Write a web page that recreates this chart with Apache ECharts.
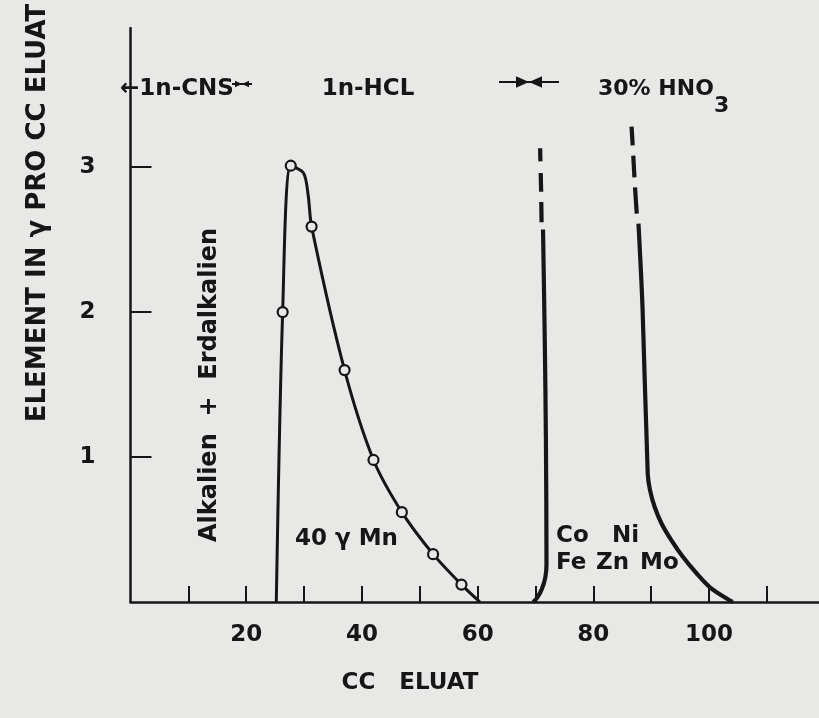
<!DOCTYPE html>
<html><head><meta charset="utf-8">
<script src="https://cdn.jsdelivr.net/npm/echarts@6/dist/echarts.min.js"></script>
<style>html,body{margin:0;padding:0;background:#e8e8e6}#c{width:819px;height:718px}</style>
</head><body><div id="c"></div>
<script>
// ---- data ----
const xTickLabels = [20, 40, 60, 80, 100];
const yTickLabels = [1, 2, 3];
// 40 γ Mn elution curve (measured points marked with circles)
const mnX = [25.2, 26.3, 27.7, 29.9, 30.7, 31.3, 37.0, 42.0, 46.9, 52.3, 57.2, 60.4];
const mnY = [0, 2.0, 3.01, 2.96, 2.81, 2.59, 1.60, 0.98, 0.62, 0.33, 0.12, 0];
const mnMeasured = [false, true, true, false, false, true, true, true, true, true, true, false];
// Co / Fe peak: solid part
const coX = [69.6, 70.3, 71.1, 71.7, 71.9, 71.8, 71.6, 71.3];
const coY = [0, 0.03, 0.09, 0.17, 0.26, 1.12, 1.81, 2.57];
// Co / Fe peak: dashed continuation, one [x0, y0, x1, y1] per dash
const coDashes = [[71.05, 2.62, 71.0, 2.76], [70.98, 2.83, 70.9, 2.96], [70.85, 3.04, 70.8, 3.13]];
// Ni / Zn / Mo peak: solid part
const moX = [104.1, 103.6, 100.2, 97.9, 95.5, 93.5, 91.8, 90.6, 89.8, 89.4, 88.5, 87.8];
const moY = [0, 0.01, 0.10, 0.195, 0.31, 0.425, 0.54, 0.655, 0.77, 0.885, 2.03, 2.61];
// Ni / Zn / Mo peak: dashed continuation
const moDashes = [[87.5, 2.68, 87.2, 2.86], [87.1, 2.93, 86.9, 3.08], [86.8, 3.15, 86.6, 3.28]];

const ink = '#161616';
const paper = '#e8e8e6';
const FONT = '"DejaVu Sans", sans-serif';
const pairs = (xs, ys) => xs.map((x, i) => [x, ys[i]]);
const dashSeries = segs => segs.map(s => ({
  type: 'line', symbol: 'none', z: 4,
  data: [[s[0], s[1]], [s[2], s[3]]],
  lineStyle: {color: ink, width: 4.2, cap: 'butt'}
}));

const chart = echarts.init(document.getElementById('c'), null, {renderer: 'canvas'});

function txt(text, x, y, size, opts) {
  opts = opts || {};
  return {
    type: 'text', x: x, y: y, rotation: opts.rotation || 0, silent: true, z: 100,
    style: {
      text: text, fill: ink, font: 'bold ' + size + 'px ' + FONT,
      textAlign: opts.align || 'left', textVerticalAlign: 'middle', verticalAlign: 'middle'
    }
  };
}
function marker(cx, cy, half, head) {
  // line with two arrowheads meeting at the centre
  return [
    {type: 'line', silent: true, z: 100, shape: {x1: cx - half, y1: cy, x2: cx + half, y2: cy}, style: {stroke: ink, lineWidth: 2}},
    {type: 'polygon', silent: true, z: 100, shape: {points: [[cx, cy], [cx - head, cy - head * 0.45], [cx - head, cy + head * 0.45]]}, style: {fill: ink}},
    {type: 'polygon', silent: true, z: 100, shape: {points: [[cx, cy], [cx + head, cy - head * 0.45], [cx + head, cy + head * 0.45]]}, style: {fill: ink}}
  ];
}

const graphics = [
  txt('ELEMENT IN γ PRO CC ELUAT', 38, 213, 26, {align: 'center', rotation: Math.PI / 2}),
  txt('←1n-CNS', 120, 89, 23),
  ...marker(242, 84, 10, 7),
  txt('1n-HCL', 368, 89, 23, {align: 'center'}),
  ...marker(529, 82, 30, 13),
  txt('30% HNO', 598, 89, 22),
  txt('3', 714, 106, 22),
  txt('Alkalien  +  Erdalkalien', 210, 385, 24, {align: 'center', rotation: Math.PI / 2}),
  txt('40 γ Mn', 295, 539, 23),
  txt('Co', 556, 536, 23),
  txt('Ni', 612, 536, 23),
  txt('Fe', 556, 563, 23),
  txt('Zn', 596, 563, 23),
  txt('Mo', 640, 563, 23),
  txt('CC   ELUAT', 410, 683, 23, {align: 'center'})
];

chart.setOption({
  backgroundColor: paper,
  animation: false,
  grid: {left: 130.5, right: 0, top: 28, bottom: 116, containLabel: false},
  xAxis: {
    type: 'value', min: 0, max: 119, interval: 10,
    axisLine: {show: true, onZero: false, lineStyle: {color: ink, width: 2.5}},
    axisTick: {show: true, inside: true, length: 16, lineStyle: {color: ink, width: 2}},
    splitLine: {show: false},
    axisLabel: {
      margin: 22, color: ink, fontSize: 23, fontWeight: 'bold', fontFamily: FONT,
      showMaxLabel: false, showMinLabel: false,
      formatter: v => xTickLabels.indexOf(v) >= 0 ? String(v) : ''
    }
  },
  yAxis: {
    type: 'value', min: 0, max: 3.96, interval: 1,
    axisLine: {show: true, onZero: false, lineStyle: {color: ink, width: 2.5}},
    axisTick: {show: true, inside: true, length: 21, lineStyle: {color: ink, width: 2}},
    splitLine: {show: false},
    axisLabel: {
      margin: 35, color: ink, fontSize: 23, fontWeight: 'bold', fontFamily: FONT,
      showMaxLabel: false, showMinLabel: false,
      formatter: v => yTickLabels.indexOf(v) >= 0 ? String(v) : ''
    }
  },
  series: [
    {
      type: 'line', smooth: 0.3, z: 5,
      data: mnX.map((x, i) => ({value: [x, mnY[i]], symbol: mnMeasured[i] ? 'circle' : 'none'})),
      symbolSize: 10, showAllSymbol: true,
      itemStyle: {color: paper, borderColor: ink, borderWidth: 2.2},
      lineStyle: {color: ink, width: 3}
    },
    {
      type: 'line', smooth: 0.3, symbol: 'none', z: 4,
      data: pairs(coX, coY), lineStyle: {color: ink, width: 4.2}
    },
    {
      type: 'line', smooth: 0.3, symbol: 'none', z: 4,
      data: pairs(moX, moY), lineStyle: {color: ink, width: 4.2}
    },
    ...dashSeries(coDashes),
    ...dashSeries(moDashes)
  ],
  graphic: graphics
});
</script></body></html>
